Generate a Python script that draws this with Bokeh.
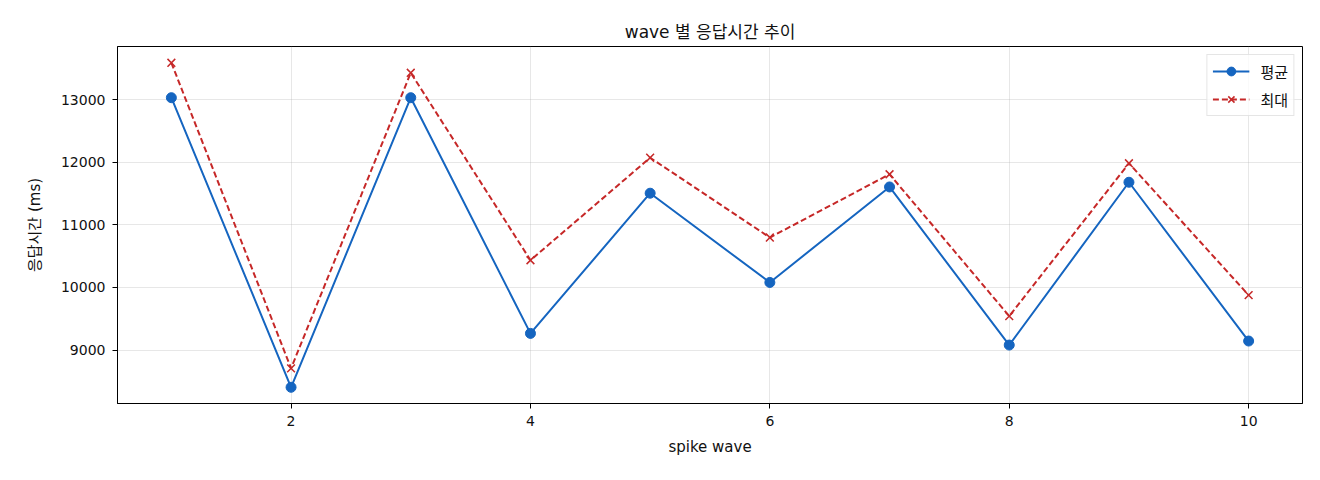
from bokeh.plotting import figure
from bokeh.models import Range1d, FixedTicker, Legend, LegendItem
from bokeh.embed import file_html
from bokeh.resources import INLINE

FONT = "DejaVu Sans, Noto Sans CJK KR"

# data
waves = [1, 2, 3, 4, 5, 6, 7, 8, 9, 10]
avg_ms = [13032, 8405, 13032, 9266, 11506, 10080, 11606, 9080, 11681, 9144]
max_ms = [13590, 8708, 13430, 10435, 12073, 10798, 11809, 9542, 11984, 9877]
x_ticks = [2, 4, 6, 8, 10]
y_ticks = [9000, 10000, 11000, 12000, 13000]

BLUE = "#1565c0"
RED = "#c62828"

p = figure(width=1312, height=472, output_backend="svg", toolbar_location=None,
           title="wave 별 응답시간 추이",
           x_range=Range1d(0.55, 10.45), y_range=Range1d(8146, 13850),
           min_border_left=117, min_border_right=10, min_border_top=46, min_border_bottom=10,
           frame_width=1185, frame_height=357)

p.title.align = "center"
p.title.text_font = FONT
p.title.text_font_size = "17px"
p.title.text_font_style = "normal"
p.title.text_color = "#111111"
p.title.standoff = 9

p.line(waves, avg_ms, color=BLUE, line_width=2)
p.scatter(waves, avg_ms, color=BLUE, size=10, marker="circle")
p.line(waves, max_ms, color=RED, line_width=2, line_dash="6 3")
p.scatter(waves, max_ms, line_color=RED, size=11, marker="x", line_width=1.5)

r_avg_l, r_avg_m, r_max_l, r_max_m = p.renderers

legend = Legend(items=[LegendItem(label="평균", renderers=[r_avg_l, r_avg_m]),
                       LegendItem(label="최대", renderers=[r_max_l, r_max_m])],
                location="top_right")
legend.label_text_font = FONT
legend.label_text_font_size = "15px"
legend.label_text_color = "#111111"
legend.label_height = 22
legend.glyph_height = 22
legend.label_standoff = 11
legend.border_line_color = "#cccccc"
legend.border_line_width = 1
legend.background_fill_alpha = 0.8
legend.glyph_width = 37
legend.spacing = 6
legend.padding = 5
legend.margin = 8
p.add_layout(legend)

for ax in (p.xaxis[0], p.yaxis[0]):
    ax.major_label_text_font = FONT
    ax.major_label_text_font_size = "14px"
    ax.major_label_text_color = "#111111"
    ax.axis_label_text_font = FONT
    ax.axis_label_text_font_size = "15px"
    ax.axis_label_text_font_style = "normal"
    ax.axis_label_text_color = "#111111"
    ax.minor_tick_line_color = None
    ax.major_tick_out = 5
    ax.major_tick_in = 0
    ax.axis_line_color = "black"
    ax.major_label_standoff = 7

p.xaxis.ticker = FixedTicker(ticks=x_ticks)
p.yaxis.ticker = FixedTicker(ticks=y_ticks)
p.xaxis.axis_label = "spike wave"
p.yaxis.axis_label = "응답시간 (ms)"
p.xaxis.axis_label_standoff = 9
p.yaxis.axis_label_standoff = 14

p.grid.grid_line_color = "#b0b0b0"
p.grid.grid_line_alpha = 0.3
p.outline_line_color = "black"
p.outline_line_alpha = 1
p.outline_line_width = 1

open("out.html", "w").write(file_html(p, INLINE))
